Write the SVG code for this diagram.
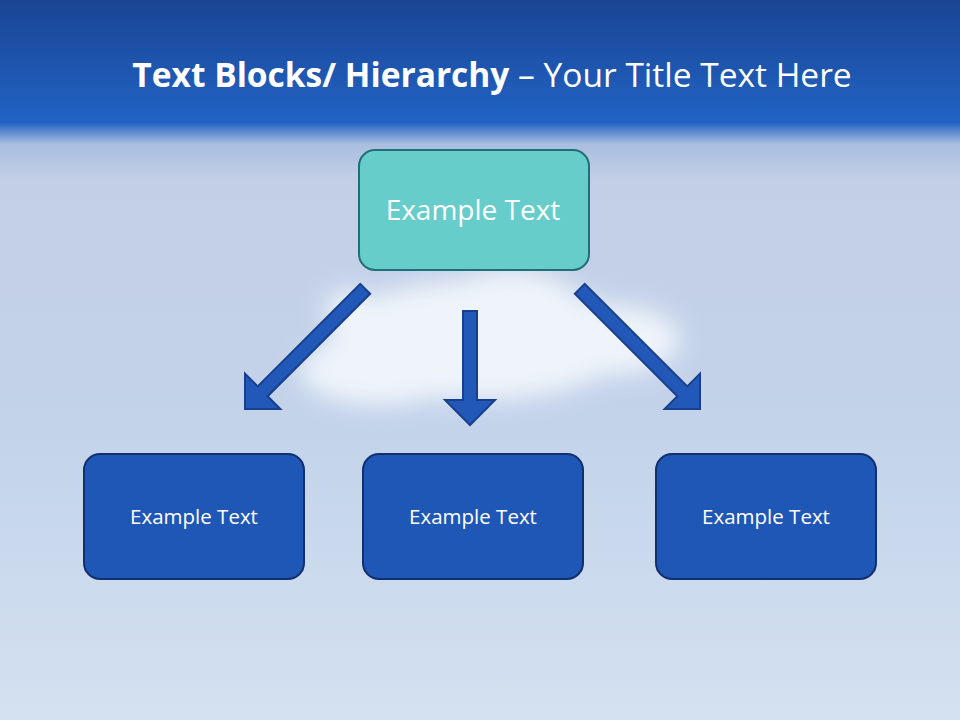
<svg xmlns="http://www.w3.org/2000/svg" width="960" height="720" viewBox="0 0 960 720">
<defs>
<linearGradient id="sky" x1="0" y1="0" x2="0" y2="1">
<stop offset="0" stop-color="#1a4594"/>
<stop offset="0.17" stop-color="#2163c4"/>
<stop offset="0.2" stop-color="#a9bde0"/>
<stop offset="0.25" stop-color="#c3cfe6"/>
<stop offset="0.6" stop-color="#c3d3ea"/>
<stop offset="1" stop-color="#d3e1f0"/>
</linearGradient>
<filter id="blur" x="-50%" y="-50%" width="200%" height="200%"><feGaussianBlur stdDeviation="12"/></filter>
<polygon id="arr" points="-7,-170 7,-170 7,-25 25,-25 0,0 -25,-25 -7,-25"/>
<style>
.arrow{fill:#2258b8;stroke:#173f8c;stroke-width:2}
.box{fill:#1f57b6;stroke:#12306e;stroke-width:2}
.t{font-family:"Open Sans","Liberation Sans",sans-serif;fill:#fff;text-anchor:middle}
</style>
</defs>
<rect width="960" height="720" fill="url(#sky)"/>
<g id="cloud" filter="url(#blur)" fill="#f4f8fd" opacity="0.9">
<ellipse cx="480" cy="340" rx="150" ry="60"/>
<ellipse cx="510" cy="310" rx="70" ry="40"/>
<ellipse cx="380" cy="370" rx="80" ry="35"/>
<ellipse cx="610" cy="340" rx="70" ry="35"/>
<ellipse cx="350" cy="310" rx="25" ry="20"/>
</g>
<text class="t" x="492" y="87" font-size="33.5" text-anchor="middle"><tspan font-weight="bold">Text Blocks/ Hierarchy</tspan> – Your Title Text Here</text>
<g id="connectors">
<use href="#arr" class="arrow" transform="translate(245,409) rotate(45)"/>
<polygon class="arrow" points="463,311 477,311 477,400 495,400 470,425 445,400 463,400"/>
<use href="#arr" class="arrow" transform="translate(700,409) rotate(-45)"/>
</g>
<g id="top"><rect x="359" y="150" width="230" height="120" rx="16" fill="#66cdca" stroke="#1f6f78" stroke-width="2"/><text class="t" x="473" y="220" font-size="28">Example Text</text></g>
<g id="b1"><rect class="box" x="84" y="454" width="220" height="125" rx="16"/><text class="t" x="194" y="524" font-size="20.5">Example Text</text></g>
<g id="b2"><rect class="box" x="363" y="454" width="220" height="125" rx="16"/><text class="t" x="473" y="524" font-size="20.5">Example Text</text></g>
<g id="b3"><rect class="box" x="656" y="454" width="220" height="125" rx="16"/><text class="t" x="766" y="524" font-size="20.5">Example Text</text></g>
</svg>
